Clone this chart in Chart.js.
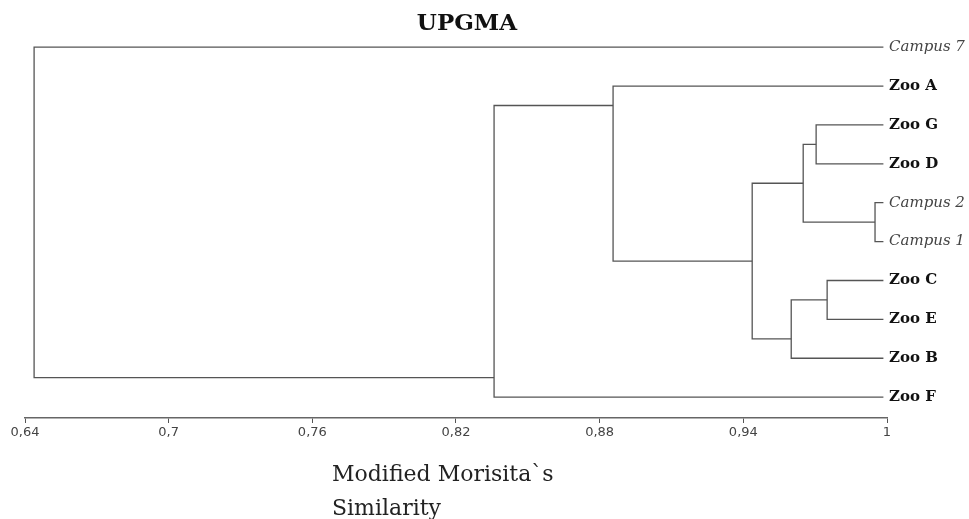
<!DOCTYPE html>
<html>
<head>
<meta charset="utf-8">
<script src="https://cdn.jsdelivr.net/npm/chart.js@4.4.1/dist/chart.umd.min.js"></script>
<style>
  html, body { margin: 0; padding: 0; background: #fff; }
  #wrap { width: 969px; height: 519px; }
</style>
</head>
<body>
<div id="wrap"><canvas id="chart"></canvas></div>
<script>
// leaves, top to bottom
const leaves = ['Campus 7', 'Zoo A', 'Zoo G', 'Zoo D', 'Campus 2', 'Campus 1', 'Zoo C', 'Zoo E', 'Zoo B', 'Zoo F'];
const leafSim = 0.9985;

// merges: children ids (0-9 leaves, 10+ earlier merges), similarity level, row where branch meets parent
const mergePairs = [[2, 3], [4, 5], [6, 7], [10, 11], [12, 8], [13, 14], [1, 15], [16, 9], [0, 17]];
const mergeSim = [0.9704, 0.995, 0.975, 0.965, 0.960, 0.9437, 0.8856, 0.8359, 0.6438];
const mergeRow = [2.5, 4.5, 6.5, 3.5, 7.5, 5.5, 1.5, 8.5, 4.25];

const xTicks = [0.64, 0.7, 0.76, 0.82, 0.88, 0.94, 1];

const nLeaf = leaves.length;
const simOf = id => id < nLeaf ? leafSim : mergeSim[id - nLeaf];
const rowOf = id => id < nLeaf ? id : mergeRow[id - nLeaf];
const isCampus = c => {
  const name = c && c.tick ? leaves[c.tick.value] : undefined;
  return !!name && name.startsWith('Campus');
};

const datasets = mergePairs.map(([a, b], i) => ({
  data: [
    { x: simOf(a), y: rowOf(a) },
    { x: mergeSim[i], y: rowOf(a) },
    { x: mergeSim[i], y: rowOf(b) },
    { x: simOf(b), y: rowOf(b) }
  ],
  borderColor: '#555',
  borderWidth: 1.3,
  pointRadius: 0,
  fill: false,
  tension: 0
}));

const textPlugin = {
  id: 'texts',
  afterDraw(chart) {
    const ctx = chart.ctx;
    ctx.save();
    ctx.fillStyle = '#111';
    ctx.font = 'bold 23px "DejaVu Serif"';
    ctx.textAlign = 'center';
    ctx.textBaseline = 'middle';
    ctx.fillText('UPGMA', 467, 24);

    ctx.fillStyle = '#222';
    ctx.font = '22px "DejaVu Serif"';
    ctx.textAlign = 'left';
    ctx.textBaseline = 'alphabetic';
    ctx.fillText('Modified Morisita`s', 332, 481);
    ctx.fillText('Similarity', 332, 515);
    ctx.restore();
  }
};

new Chart(document.getElementById('chart'), {
  type: 'line',
  data: { datasets },
  options: {
    responsive: true,
    maintainAspectRatio: false,
    animation: false,
    layout: { padding: { left: 25, top: 30, right: 0, bottom: 0 } },
    plugins: {
      legend: { display: false },
      tooltip: { enabled: false },
      title: { display: false }
    },
    scales: {
      x: {
        type: 'linear',
        min: 0.64,
        max: 1,
        afterBuildTicks: s => { s.ticks = xTicks.map(v => ({ value: v })); },
        afterFit: s => { s.height = 101; },
        border: { display: true, color: '#666', width: 1.5, dash: [3, 1] },
        grid: { drawOnChartArea: false, drawTicks: true, tickLength: 5, color: '#555' },
        ticks: {
          padding: 2,
          maxRotation: 0,
          color: '#444',
          font: { family: '"DejaVu Sans"', size: 13 },
          callback: v => String(v).replace('.', ',')
        }
      },
      y: {
        type: 'linear',
        position: 'right',
        reverse: true,
        min: -0.442,
        max: 9.537,
        afterBuildTicks: s => { s.ticks = leaves.map((_, i) => ({ value: i })); },
        afterFit: s => { s.width = 82; },
        border: { display: false },
        grid: { display: false, drawTicks: false },
        ticks: {
          padding: 2,
          crossAlign: 'near',
          autoSkip: false,
          callback: v => leaves[v],
          color: c => isCampus(c) ? '#444' : '#111',
          font: c => isCampus(c)
            ? { family: '"DejaVu Serif"', size: 15, style: 'italic', weight: 'normal' }
            : { family: '"DejaVu Serif"', size: 15, weight: 'bold' }
        }
      }
    }
  },
  plugins: [textPlugin]
});
</script>
</body>
</html>
